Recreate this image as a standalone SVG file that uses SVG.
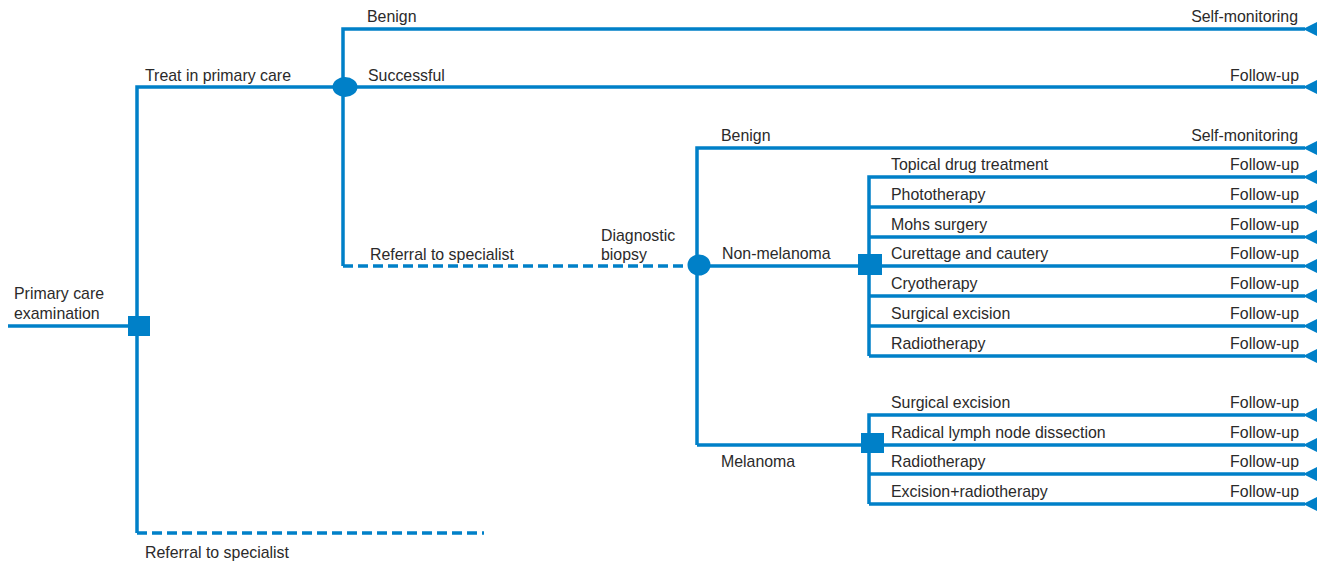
<svg xmlns="http://www.w3.org/2000/svg" width="1317" height="563" viewBox="0 0 1317 563">
<defs>
<style>
.l{stroke:#0080C8;stroke-width:3.5;fill:none;stroke-linecap:butt}
.d{stroke:#0080C8;stroke-width:3.5;fill:none;stroke-dasharray:10 5}
.f{fill:#0080C8}
text{font-family:"Liberation Sans",Arial,sans-serif;font-size:15.9px;fill:#2B2A2A}
.r{text-anchor:end}
</style>
<polygon id="tri" points="0,0 18,-9 18,9" fill="#0080C8"/>
</defs>
<g id="connectors">
<path class="l" d="M8,326 H139"/>
<path class="l" d="M137,533 V87 H345"/>
<path class="d" d="M137,533 H484"/>
<path class="l" d="M343,266 V29 H1305"/>
<path class="l" d="M345,87 H1305"/>
<path class="d" d="M343,266 H698"/>
<path class="l" d="M697,445 V148 H1305"/>
<path class="l" d="M698,266 H869"/>
<path class="l" d="M697,445 H872"/>
<path class="l" d="M869,356 V177 H1305"/>
<path class="l" d="M869,207 H1305 M869,237 H1305 M869,266 H1305 M869,296 H1305 M869,326 H1305 M869,356 H1305"/>
<path class="l" d="M869,504 V415 H1305"/>
<path class="l" d="M869,445 H1305 M869,474 H1305 M869,504 H1305"/>
</g>
<g id="ends">
<use href="#tri" x="1303" y="29"/>
<use href="#tri" x="1303" y="87"/>
<use href="#tri" x="1303" y="148"/>
<use href="#tri" x="1303" y="177"/>
<use href="#tri" x="1303" y="207"/>
<use href="#tri" x="1303" y="237"/>
<use href="#tri" x="1303" y="266"/>
<use href="#tri" x="1303" y="296"/>
<use href="#tri" x="1303" y="326"/>
<use href="#tri" x="1303" y="356"/>
<use href="#tri" x="1303" y="415"/>
<use href="#tri" x="1303" y="445"/>
<use href="#tri" x="1303" y="474"/>
<use href="#tri" x="1303" y="504"/>
</g>
<g id="n-primary">
<rect class="f" x="128" y="316" width="22" height="20"/>
<text x="14" y="299">Primary care</text>
<text x="14" y="319">examination</text>
</g>
<g id="n-chance1">
<ellipse class="f" cx="345" cy="87" rx="12.5" ry="10"/>
</g>
<g id="n-chance2">
<ellipse class="f" cx="699" cy="265" rx="11.5" ry="10.5"/>
</g>
<g id="n-nonmel">
<rect class="f" x="858" y="254" width="24" height="21"/>
</g>
<g id="n-mel">
<rect class="f" x="861" y="433" width="23" height="20"/>
</g>
<g id="labels">
<text x="145" y="81">Treat in primary care</text>
<text x="145" y="558">Referral to specialist</text>
<text x="367" y="22">Benign</text>
<text x="368" y="81">Successful</text>
<text x="370" y="260">Referral to specialist</text>
<text x="601" y="241">Diagnostic</text>
<text x="601" y="260">biopsy</text>
<text x="721" y="141">Benign</text>
<text x="722" y="259">Non-melanoma</text>
<text x="721" y="467">Melanoma</text>
<text x="891" y="170">Topical drug treatment</text>
<text x="891" y="200">Phototherapy</text>
<text x="891" y="230">Mohs surgery</text>
<text x="891" y="259">Curettage and cautery</text>
<text x="891" y="289">Cryotherapy</text>
<text x="891" y="319">Surgical excision</text>
<text x="891" y="349">Radiotherapy</text>
<text x="891" y="408">Surgical excision</text>
<text x="891" y="438">Radical lymph node dissection</text>
<text x="891" y="467">Radiotherapy</text>
<text x="891" y="497">Excision+radiotherapy</text>
<text class="r" x="1298" y="22">Self-monitoring</text>
<text class="r" x="1299" y="81">Follow-up</text>
<text class="r" x="1298" y="141">Self-monitoring</text>
<text class="r" x="1299" y="170">Follow-up</text>
<text class="r" x="1299" y="200">Follow-up</text>
<text class="r" x="1299" y="230">Follow-up</text>
<text class="r" x="1299" y="259">Follow-up</text>
<text class="r" x="1299" y="289">Follow-up</text>
<text class="r" x="1299" y="319">Follow-up</text>
<text class="r" x="1299" y="349">Follow-up</text>
<text class="r" x="1299" y="408">Follow-up</text>
<text class="r" x="1299" y="438">Follow-up</text>
<text class="r" x="1299" y="467">Follow-up</text>
<text class="r" x="1299" y="497">Follow-up</text>
</g>
</svg>
